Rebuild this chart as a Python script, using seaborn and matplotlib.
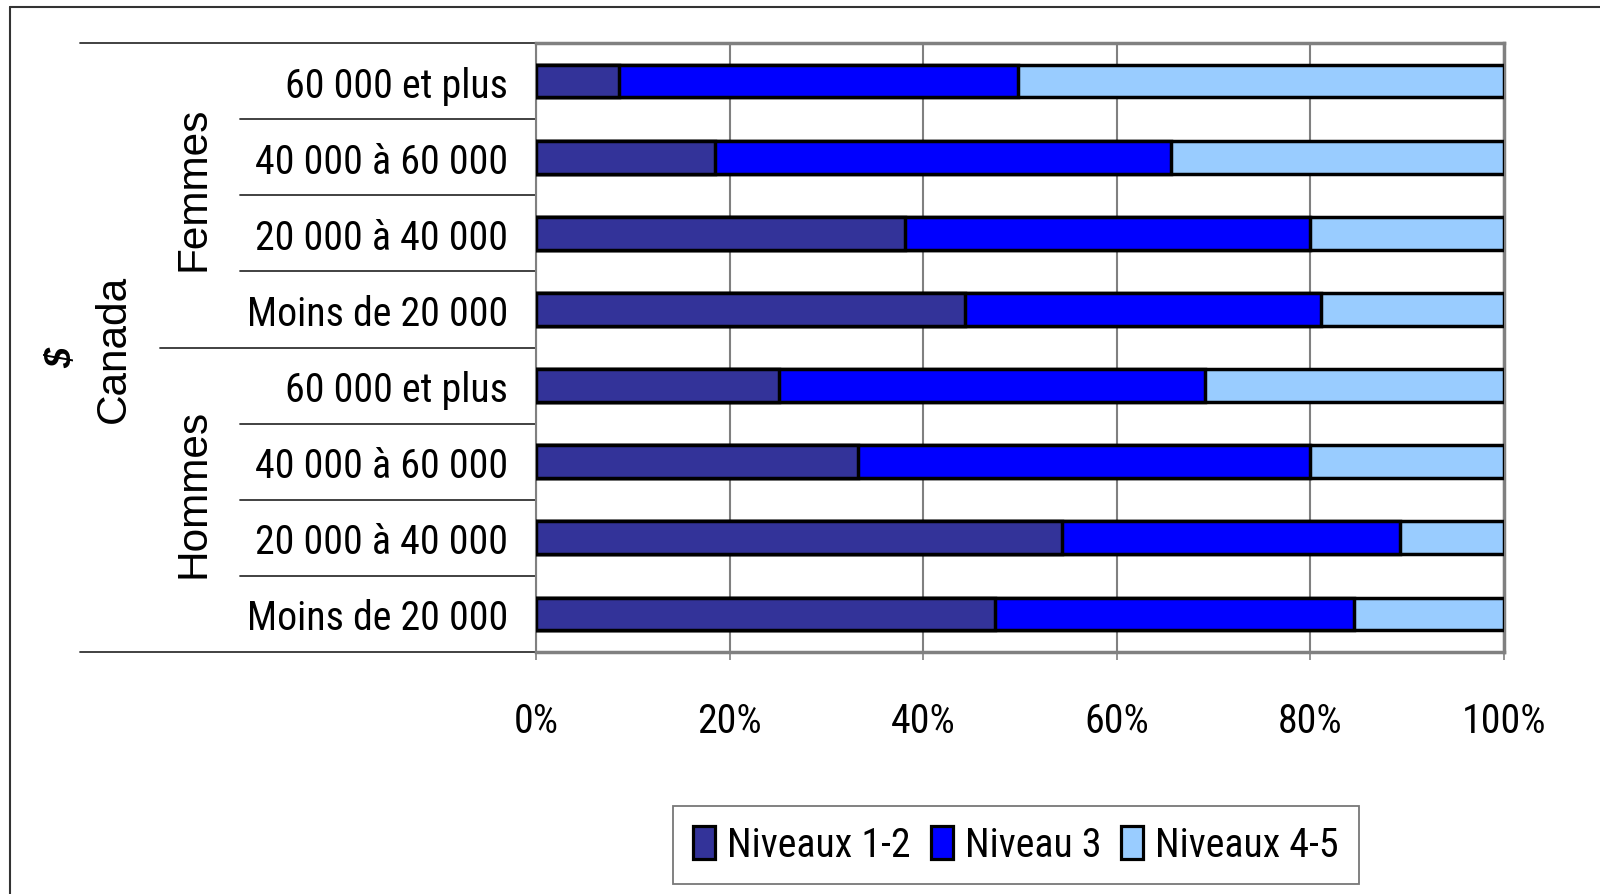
import matplotlib
matplotlib.use("Agg")
import matplotlib.pyplot as plt
from matplotlib import font_manager
from matplotlib.lines import Line2D
from matplotlib.patches import Patch
import seaborn as sns
import pandas as pd

# données (%)
groupes = ["Femmes"] * 4 + ["Hommes"] * 4
revenus = ["60 000 et plus", "40 000 à 60 000", "20 000 à 40 000", "Moins de 20 000"] * 2
niveaux_1_2 = [8.6, 18.5, 38.1, 44.3, 25.1, 33.3, 54.3, 47.4]
niveau_3 = [41.2, 47.1, 41.9, 36.8, 44.0, 46.7, 35.0, 37.1]
niveaux_4_5 = [50.2, 34.4, 20.0, 18.9, 30.9, 20.0, 10.7, 15.5]
series = ["Niveaux 1-2", "Niveau 3", "Niveaux 4-5"]
couleurs = ["#333399", "#0000FF", "#99CCFF"]
xticks = [0, 20, 40, 60, 80, 100]

df = pd.DataFrame({"groupe": groupes, "revenu": revenus,
                   "n12": niveaux_1_2, "n3": niveau_3, "n45": niveaux_4_5})
df["cle"] = df["groupe"] + " | " + df["revenu"]
df["c1"] = df["n12"]
df["c2"] = df["n12"] + df["n3"]
df["c3"] = df["c2"] + df["n45"]
ordre = list(df["cle"])

sns.set_style("white")
regular = ["Liberation Sans", "DejaVu Sans"]
plt.rcParams["font.family"] = regular
plt.rcParams["text.color"] = "black"

# police étroite (type Arial Narrow) si une est installée, sinon Liberation Sans
candidats = []
for f in font_manager.fontManager.ttflist:
    nom = (f.name + " " + f.fname).lower()
    if ("narrow" in nom or "condensed" in nom) and "mono" not in nom \
            and "bold" not in nom and "oblique" not in nom and "italic" not in nom:
        rang = 0 if "liberation" in nom or "arial" in nom else (1 if "roboto" in nom else 2)
        candidats.append((rang, f.fname))
candidats.sort()
if candidats:
    base = font_manager.FontProperties(fname=candidats[0][1])
else:
    base = font_manager.FontProperties(family=regular)


def fp(size):
    p = base.copy()
    p.set_size(size)
    return p


fig = plt.figure(figsize=(16, 8.95), dpi=100)

# taille ajustée pour que « Moins de 20 000 » fasse ~261 px de large
tmp = fig.text(0, 0, "Moins de 20 000", fontproperties=fp(30))
largeur = tmp.get_window_extent(renderer=fig.canvas.get_renderer()).width
tmp.remove()
taille = min(30.5, 30 * 261 / largeur)

ax = fig.add_axes([536 / 1600, 1 - 653 / 895, (1504 - 536) / 1600, (653 - 44) / 895])

# barres empilées : on dessine les cumuls du plus grand au plus petit
for col, couleur in zip(["c3", "c2", "c1"], couleurs[::-1]):
    sns.barplot(data=df, x=col, y="cle", order=ordre, orient="h", color=couleur,
                saturation=1, edgecolor="black", linewidth=2.5, width=0.43,
                errorbar=None, ax=ax, zorder=3)

ax.set_xlim(0, 100)
ax.set_ylim(len(ordre) - 0.5, -0.5)
ax.set_xticks(xticks)
ax.set_xticklabels([f"{t}%" for t in xticks], fontproperties=fp(taille), color="black")
ax.set_yticks(range(len(ordre)))
ax.set_yticklabels(df["revenu"], fontproperties=fp(taille), color="black")
ax.set_xlabel("")
ax.set_ylabel("")
ax.tick_params(axis="y", length=0, pad=20)
ax.tick_params(axis="x", length=6, width=1.2, color="#808080", pad=29, bottom=True)
ax.xaxis.grid(True, color="#808080", linewidth=1.5, zorder=0)
ax.set_axisbelow(True)
for s in ax.spines.values():
    s.set_visible(True)
    s.set_color("#808080")
    s.set_linewidth(2.5)
ax.spines["left"].set_linewidth(1.5)

# séparateurs des catégories à gauche
tr = ax.get_yaxis_transform()
n = len(ordre)
for i in range(1, n):
    x0 = -0.388 if i == 4 else -0.306
    ax.plot([x0, 0], [i - 0.5, i - 0.5], transform=tr, color="#333333",
            linewidth=1.3, clip_on=False)
for yb in [-0.5, n - 0.5]:
    ax.plot([-0.471, 0], [yb, yb], transform=tr, color="#333333",
            linewidth=1.3, clip_on=False)

# libellés des groupes
ax.text(-0.354, 1.4, "Femmes", transform=tr, rotation=90, ha="center", va="center",
        fontsize=30.5, family=regular)
ax.text(-0.354, 5.4, "Hommes", transform=tr, rotation=90, ha="center", va="center",
        fontsize=30.5, family=regular)
ax.text(-0.436, 3.5, "Canada", transform=tr, rotation=90, ha="center", va="center",
        fontsize=30.5, family=regular)
ax.text(-0.490, 3.62, "$", transform=tr, rotation=90, ha="center", va="center",
        fontsize=26, family=regular, fontweight="bold", fontstyle="italic")

# cadre extérieur (haut et gauche)
fig.add_artist(Line2D([10 / 1600, 1], [1 - 8 / 895, 1 - 8 / 895], color="#333333", linewidth=1.5))
fig.add_artist(Line2D([10 / 1600, 10 / 1600], [0, 1 - 8 / 895], color="#333333", linewidth=1.5))

handles = [Patch(facecolor=c, edgecolor="black", linewidth=2.3) for c in couleurs]
leg = fig.legend(handles, series, loc="center", bbox_to_anchor=(1016 / 1600, 1 - 846 / 895),
                 ncol=3, prop=fp(taille), frameon=True, fancybox=False,
                 handlelength=0.55, handleheight=0.9, handletextpad=0.3,
                 columnspacing=0.5, borderpad=0.5, borderaxespad=0)
leg.get_frame().set_edgecolor("#555555")
leg.get_frame().set_linewidth(1.3)

fig.savefig("out.png", dpi=100, facecolor="white")
